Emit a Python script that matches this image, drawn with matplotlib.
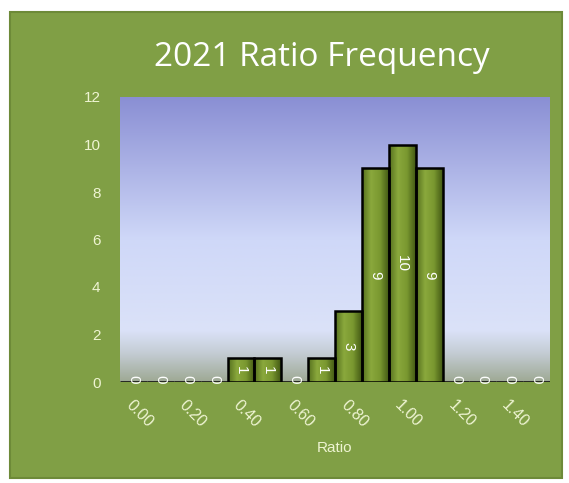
import numpy as np
import matplotlib
matplotlib.use("Agg")
import matplotlib.pyplot as plt
from matplotlib.colors import LinearSegmentedColormap
from matplotlib.patches import Rectangle

# data
bins = [0.00, 0.10, 0.20, 0.30, 0.40, 0.50, 0.60, 0.70,
        0.80, 0.90, 1.00, 1.10, 1.20, 1.30, 1.40, 1.50]
counts = [0, 0, 0, 0, 1, 1, 0, 1, 3, 9, 10, 9, 0, 0, 0, 0]
tick_labels = ["0.00", "0.20", "0.40", "0.60", "0.80", "1.00", "1.20", "1.40"]

green = "#809f45"
txt = "#eef4d2"
plt.rcParams["font.family"] = ["Liberation Sans", "DejaVu Sans"]

fig = plt.figure(figsize=(5.69, 4.83), dpi=100)
fig.patch.set_facecolor("white")
panel = Rectangle((10 / 569, 5 / 483), 552 / 569, 466 / 483,
                  transform=fig.transFigure, facecolor=green,
                  edgecolor="#6d8a38", linewidth=1.5, zorder=-10)
fig.patches.append(panel)

ax = fig.add_axes([120 / 569, 1 - 382 / 483, 430 / 569, 285 / 483])
ax.set_zorder(5)
ax.set_facecolor("none")
x = np.arange(len(bins))
ax.set_xlim(-0.5, len(bins) - 0.5)
ax.set_ylim(0, 12)

# background gradient of plot area
bg = LinearSegmentedColormap.from_list("bg", [
    (0.0, "#9ea994"), (0.1, "#c4ccd4"), (0.18, "#dbe2f8"),
    (0.5, "#cfd8f8"), (1.0, "#8a8fd4")])
grad = np.linspace(0, 1, 256).reshape(-1, 1)
ax.imshow(grad, cmap=bg, origin="lower", aspect="auto",
          extent=(-0.5, len(bins) - 0.5, 0, 12), zorder=0)

# bars with horizontal gradient
barcm = LinearSegmentedColormap.from_list("bar", ["#55701e", "#8aa83c", "#7a9830", "#435a14"])
hgrad = np.linspace(0, 1, 64).reshape(1, -1)
bars = ax.bar(x, counts, width=1.0, color="none", edgecolor="black",
              linewidth=1.8, zorder=3)
for b, c in zip(bars, counts):
    if c == 0:
        continue
    im = ax.imshow(hgrad, cmap=barcm, aspect="auto",
                   extent=(b.get_x(), b.get_x() + b.get_width(), 0, c), zorder=2)
    im.set_clip_path(b)

# value labels
for xi, c in zip(x, counts):
    y = 0.12 if c == 0 else c / 2
    ax.text(xi, y, str(c), rotation=270, ha="center", va="center",
            color="white", fontsize=11, zorder=4)

ax.set_xticks(x[::2])
ax.set_xticklabels(tick_labels, rotation=-45, ha="left", va="top",
                   rotation_mode="anchor", color=txt, fontsize=11.5)
ax.set_yticks(range(0, 13, 2))
ax.tick_params(axis="y", colors=txt, labelsize=11, length=0, pad=14)
ax.tick_params(axis="x", length=0, pad=11)
for s in ax.spines.values():
    s.set_visible(False)

ax.set_xlabel("Ratio", color=txt, fontsize=11, labelpad=8)
fig.text(0.566, 1 - 57 / 483, "2021 Ratio Frequency", ha="center", va="center",
         color="white", fontsize=24, family="Open Sans")

fig.savefig("out.png", dpi=100)
